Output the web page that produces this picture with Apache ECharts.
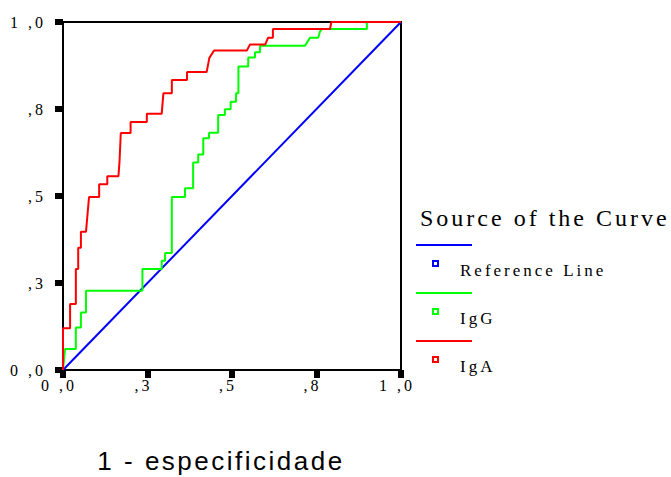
<!DOCTYPE html>
<html>
<head>
<meta charset="utf-8">
<script src="https://cdn.jsdelivr.net/npm/echarts@6/dist/echarts.min.js"></script>
<style>
html, body { margin: 0; padding: 0; background: #fff; }
#chart { width: 671px; height: 477px; }
/* SPSS draws its labels with wide letter spacing */
#chart text[style*="Serif"] { font-family: "Liberation Serif", "Times New Roman", serif !important; letter-spacing: 3px; }
#chart text[style*="Liberation Sans"] { font-family: "Liberation Sans", Arial, sans-serif !important; letter-spacing: 2.5px; }
</style>
</head>
<body>
<div id="chart"></div>
<script>
// ROC curve: 1 - especificidade (x) vs sensibilidade (y)
const tickValues = [0, 0.25, 0.5, 0.75, 1];
const tickLabels = ['0 ,0', ',3', ',5', ',8', '1 ,0'];

const refX = [0, 1];
const refY = [0, 1];

const iggX = [0, 0.006, 0.038, 0.038, 0.053, 0.053, 0.068, 0.068, 0.235, 0.235, 0.292, 0.292, 0.302, 0.302,
    0.322, 0.322, 0.361, 0.361, 0.385, 0.385, 0.400, 0.400, 0.415, 0.415, 0.432, 0.432, 0.459, 0.459,
    0.479, 0.479, 0.496, 0.496, 0.512, 0.512, 0.519, 0.519, 0.548, 0.548, 0.568, 0.568, 0.583, 0.583,
    0.716, 0.731, 0.755, 0.760, 0.766, 0.899, 0.899, 1];
const iggY = [0, 0.060, 0.060, 0.122, 0.122, 0.165, 0.165, 0.228, 0.228, 0.290, 0.290, 0.314, 0.314, 0.336,
    0.336, 0.497, 0.497, 0.522, 0.522, 0.596, 0.596, 0.619, 0.619, 0.666, 0.666, 0.682, 0.682, 0.733,
    0.733, 0.749, 0.749, 0.771, 0.771, 0.795, 0.795, 0.872, 0.872, 0.898, 0.898, 0.913, 0.913, 0.932,
    0.932, 0.955, 0.955, 0.972, 0.980, 0.980, 1, 1];

const igaX = [0, 0, 0.021, 0.021, 0.038, 0.038, 0.045, 0.045, 0.053, 0.053, 0.068, 0.077, 0.107, 0.107,
    0.131, 0.131, 0.164, 0.167, 0.171, 0.200, 0.200, 0.248, 0.248, 0.292, 0.297, 0.322, 0.322, 0.367,
    0.367, 0.425, 0.433, 0.447, 0.544, 0.553, 0.598, 0.607, 0.621, 0.621, 0.790, 0.794, 1];
const igaY = [0, 0.120, 0.120, 0.190, 0.190, 0.290, 0.290, 0.351, 0.351, 0.397, 0.397, 0.497, 0.497, 0.534,
    0.534, 0.557, 0.557, 0.595, 0.681, 0.681, 0.713, 0.713, 0.736, 0.736, 0.795, 0.795, 0.833, 0.833,
    0.856, 0.856, 0.897, 0.918, 0.918, 0.935, 0.935, 0.955, 0.955, 0.980, 0.980, 1, 1];

const legendTitle = 'Source of the Curve';
const legendNames = ['Reference Line', 'IgG', 'IgA'];
const legendColors = ['#0000ff', '#00ff00', '#ff0000'];

function zip(xs, ys) {
    return xs.map((x, i) => [x, ys[i]]);
}

const seriesData = [zip(refX, refY), zip(iggX, iggY), zip(igaX, igaY)];

const serif = 'Liberation Serif';

// legend drawn like SPSS: a line sample, then a small square with the name
const legendItems = [];
legendNames.forEach((name, i) => {
    const top = 245 + i * 48;
    legendItems.push({
        type: 'line',
        shape: { x1: 416, y1: top, x2: 472, y2: top },
        style: { stroke: legendColors[i], lineWidth: 2 }
    });
    legendItems.push({
        type: 'rect',
        shape: { x: 433, y: top + 16, width: 5, height: 5 },
        style: { fill: '#fff', stroke: legendColors[i], lineWidth: 2 }
    });
    legendItems.push({
        type: 'text',
        x: 460,
        y: top + 25,
        style: {
            text: name, fill: '#000', font: '17px "' + serif + '"',
            textAlign: 'left', textVerticalAlign: 'middle'
        }
    });
});

const option = {
    animation: false,
    backgroundColor: '#fff',
    grid: {
        left: 63, right: 270, top: 22, bottom: 107,
        outerBoundsMode: 'none',
        show: true, borderColor: '#000', borderWidth: 2
    },
    xAxis: {
        type: 'value', min: 0, max: 1, interval: 0.25,
        name: '1 - especificidade',
        nameLocation: 'middle',
        nameGap: 78,
        nameTextStyle: { fontFamily: 'Liberation Sans', fontSize: 26, color: '#000', padding: [0, 22, 0, 0] },
        splitLine: { show: false },
        axisLine: { lineStyle: { color: '#000', width: 2 } },
        axisTick: { length: 8, lineStyle: { color: '#000', width: 6 } },
        axisLabel: {
            margin: 7, color: '#000', fontFamily: serif, fontSize: 16,
            padding: [0, 8, 0, 0],
            formatter: v => tickLabels[tickValues.indexOf(v)]
        }
    },
    yAxis: {
        type: 'value', min: 0, max: 1, interval: 0.25,
        splitLine: { show: false },
        axisLine: { lineStyle: { color: '#000', width: 2 } },
        axisTick: { length: 8, lineStyle: { color: '#000', width: 6 } },
        axisLabel: {
            margin: 17, color: '#000', fontFamily: serif, fontSize: 16,
            padding: [6, 0, 0, 0],
            formatter: v => tickLabels[tickValues.indexOf(v)]
        }
    },
    series: legendNames.map((name, i) => ({
        name: name,
        type: 'line',
        data: seriesData[i],
        symbol: 'none',
        clip: false,
        z: 3 + i,
        lineStyle: { color: legendColors[i], width: 2 }
    })),
    graphic: [
        {
            type: 'text',
            x: 420,
            y: 218,
            style: {
                text: legendTitle, fill: '#000', font: '24px "' + serif + '"',
                textAlign: 'left', textVerticalAlign: 'middle'
            }
        }
    ].concat(legendItems)
};

const chart = echarts.init(document.getElementById('chart'), null, { renderer: 'svg' });
chart.setOption(option);
</script>
</body>
</html>
